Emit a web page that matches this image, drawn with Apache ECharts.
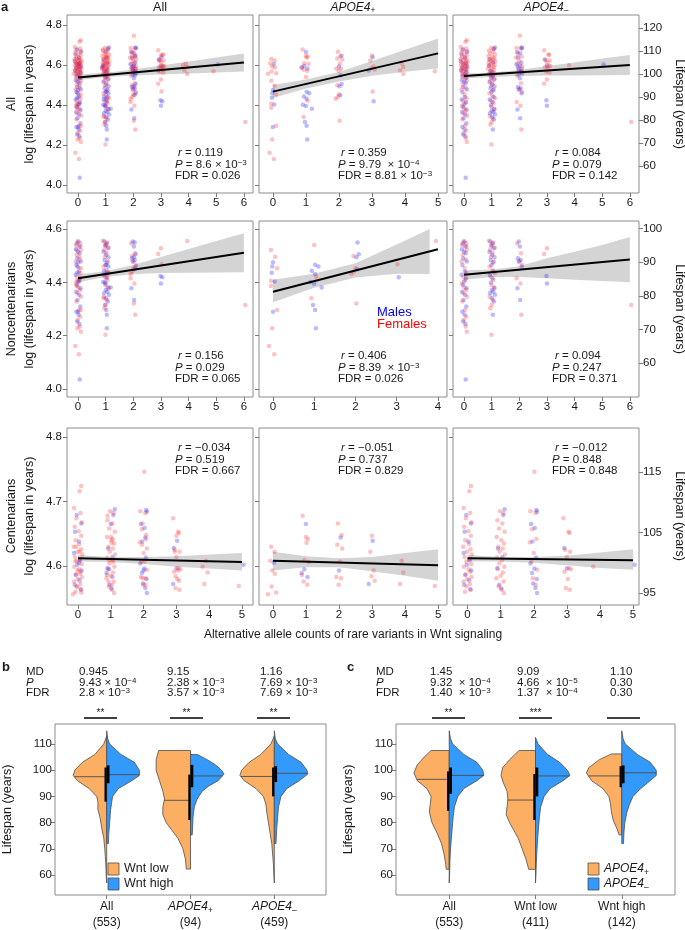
<!DOCTYPE html>
<html style="height: 100%">

<head>
  <meta charset="utf-8">
  <title>Wnt signaling variants and lifespan</title>
</head>

<body style="height: 100%; margin: 0; background: #fff">
  <div id="container" style="width: 685px; height: 930px"></div>
  <script type="text/javascript" src="https://cdn.jsdelivr.net/npm/echarts@6/dist/echarts.min.js"></script>
  <script type="text/javascript">
    var FONT = "'Liberation Sans', Arial, Helvetica, sans-serif";

    // ---------- panel a : points are [jittered allele count, log lifespan] ----------
    // noncentenarians, APOE4+
    var ncPosMales = [
      [0.00, 4.475], [-0.02, 4.459], [-0.03, 4.436], [0.04, 4.403], [0.00, 4.290],
      [1.02, 4.466], [1.10, 4.459], [0.94, 4.443], [1.02, 4.431], [0.91, 4.401], [1.00, 4.395], [1.18, 4.381],
      [0.97, 4.315], [1.02, 4.296], [1.04, 4.228],
      [2.05, 4.549], [2.08, 4.505], [2.02, 4.494], [2.04, 4.449],
      [3.05, 4.419]
    ];
    var ncPosFemales = [
      [-0.05, 4.521], [0.05, 4.496], [0.10, 4.453], [-0.05, 4.406], [-0.05, 4.386], [0.10, 4.296], [-0.02, 4.228],
      [-0.10, 4.161], [0.03, 4.130],
      [1.00, 4.540], [1.05, 4.421], [0.93, 4.340],
      [1.95, 4.499], [2.00, 4.453], [1.96, 4.440], [1.90, 4.431], [2.02, 4.321],
      [3.02, 4.468],
      [3.95, 4.555]
    ];
    // noncentenarians, APOE4-
    var ncNegMales = [
      [0.02, 4.553], [-0.05, 4.546], [0.08, 4.534], [-0.08, 4.524], [0.00, 4.515], [0.06, 4.509], [-0.03, 4.490],
      [0.10, 4.478], [-0.06, 4.465], [0.03, 4.440], [-0.09, 4.428], [0.07, 4.415], [0.00, 4.403], [-0.04, 4.390],
      [0.09, 4.378], [-0.07, 4.365], [0.04, 4.353], [-0.02, 4.334], [0.08, 4.309], [-0.06, 4.290], [0.02, 4.278],
      [-0.03, 4.253], [0.05, 4.244], [0.06, 4.036],
      [0.95, 4.553], [1.04, 4.546], [0.98, 4.536], [1.08, 4.528], [0.92, 4.515], [1.02, 4.503], [1.10, 4.494],
      [0.96, 4.484], [1.05, 4.474], [0.99, 4.465], [1.07, 4.440], [0.93, 4.428], [1.03, 4.415], [0.97, 4.399],
      [1.09, 4.381], [1.00, 4.371], [1.06, 4.365], [0.94, 4.359], [1.12, 4.353], [1.01, 4.340], [1.08, 4.328],
      [1.04, 4.278],
      [1.98, 4.553], [2.02, 4.534], [1.95, 4.490], [2.05, 4.484], [2.00, 4.478], [2.08, 4.459], [1.93, 4.378],
      [2.03, 4.334],
      [2.98, 4.424], [3.00, 4.396]
    ];
    var ncNegFemales = [
      [-0.02, 4.553], [0.08, 4.546], [-0.07, 4.540], [0.04, 4.534], [0.10, 4.521], [-0.05, 4.503], [0.06, 4.486],
      [-0.09, 4.478], [0.02, 4.453], [0.09, 4.434], [-0.04, 4.421], [0.05, 4.409], [-0.08, 4.396], [0.01, 4.381],
      [0.07, 4.371], [-0.03, 4.359], [0.11, 4.346], [-0.06, 4.328], [0.03, 4.296], [0.08, 4.271], [-0.01, 4.259],
      [0.06, 4.234], [0.10, 4.215],
      [0.90, 4.556], [1.05, 4.549], [1.00, 4.540], [1.11, 4.531], [0.94, 4.521], [1.03, 4.511], [0.97, 4.496],
      [1.08, 4.478], [0.92, 4.459], [1.02, 4.446], [1.12, 4.434], [0.96, 4.421], [1.06, 4.409], [0.99, 4.390],
      [1.10, 4.378], [0.93, 4.346], [1.04, 4.334], [1.00, 4.315], [0.95, 4.303], [0.99, 4.203],
      [1.92, 4.546], [2.06, 4.509], [1.97, 4.478], [2.10, 4.465], [1.90, 4.415], [2.04, 4.396], [2.07, 4.278],
      [2.90, 4.506], [3.00, 4.528],
      [6.05, 4.315]
    ];
    // centenarians, APOE4+
    var cenPosMales = [
      [0.03, 4.605],
      [1.00, 4.665], [0.95, 4.595], [0.87, 4.589], [1.05, 4.583],
      [2.05, 4.644], [2.00, 4.593],
      [3.02, 4.639], [2.90, 4.572]
    ];
    var cenPosFemales = [
      [-0.05, 4.630], [0.05, 4.622], [-0.08, 4.608], [-0.02, 4.593], [0.06, 4.588], [-0.04, 4.568], [0.10, 4.559],
      [-0.15, 4.556],
      [0.90, 4.678], [1.00, 4.645], [1.06, 4.642], [1.02, 4.636], [0.95, 4.609], [1.08, 4.606], [0.88, 4.586],
      [0.93, 4.576], [1.04, 4.571],
      [1.97, 4.666], [2.08, 4.648], [1.95, 4.633], [2.10, 4.627], [2.03, 4.607], [1.92, 4.583], [2.06, 4.581],
      [1.99, 4.571],
      [3.00, 4.647], [2.95, 4.622], [3.05, 4.593], [2.98, 4.584], [3.08, 4.577],
      [3.90, 4.608], [3.95, 4.590], [3.85, 4.572],
      [4.90, 4.569]
    ];
    // centenarians, APOE4-
    var cenNegMales = [
      [-0.04, 4.679], [0.10, 4.666], [-0.09, 4.653], [0.03, 4.638], [-0.12, 4.620], [0.06, 4.609], [-0.02, 4.602],
      [0.11, 4.593], [-0.07, 4.586], [0.05, 4.578], [-0.10, 4.571], [0.08, 4.564],
      [1.12, 4.688], [1.08, 4.679], [0.92, 4.627], [1.05, 4.614], [0.90, 4.597], [0.96, 4.571], [1.02, 4.565],
      [2.08, 4.687], [2.10, 4.684], [1.92, 4.665], [2.03, 4.659], [1.96, 4.638], [2.07, 4.613], [1.90, 4.604],
      [2.02, 4.596], [1.95, 4.589], [2.09, 4.580], [1.98, 4.573], [2.05, 4.566], [2.10, 4.558],
      [2.92, 4.628], [3.00, 4.596],
      [5.05, 4.602]
    ];
    var cenNegFemales = [
      [0.10, 4.724], [0.05, 4.716], [-0.12, 4.690], [0.08, 4.682], [-0.05, 4.674], [0.12, 4.668], [-0.10, 4.661],
      [0.02, 4.654], [0.10, 4.647], [-0.07, 4.640], [0.04, 4.634], [-0.13, 4.630], [0.09, 4.626], [-0.02, 4.622],
      [0.13, 4.618], [-0.09, 4.614], [0.06, 4.611], [-0.04, 4.607], [0.11, 4.603], [-0.11, 4.599], [0.03, 4.595],
      [0.08, 4.591], [-0.06, 4.587], [0.12, 4.583], [-0.01, 4.580], [-0.12, 4.576], [0.07, 4.572], [-0.03, 4.568],
      [0.10, 4.563], [-0.08, 4.560],
      [0.98, 4.685], [1.08, 4.682], [0.90, 4.671], [1.05, 4.666], [0.95, 4.658], [1.12, 4.653], [0.88, 4.645],
      [1.02, 4.640], [1.10, 4.635], [0.93, 4.630], [1.06, 4.627], [0.97, 4.622], [1.13, 4.618], [0.89, 4.613],
      [1.04, 4.609], [0.96, 4.604], [1.11, 4.599], [0.91, 4.595], [1.07, 4.590], [1.00, 4.585], [0.87, 4.581],
      [1.09, 4.576], [0.94, 4.568], [1.03, 4.563], [1.10, 4.558],
      [2.02, 4.746], [1.90, 4.685], [2.05, 4.682], [1.95, 4.657], [2.08, 4.642], [1.88, 4.637], [2.00, 4.620],
      [1.93, 4.607], [2.10, 4.594], [1.97, 4.581], [2.06, 4.571],
      [2.90, 4.674], [3.05, 4.653], [3.08, 4.651], [2.95, 4.625], [3.10, 4.622], [3.00, 4.614], [3.06, 4.597],
      [3.12, 4.595], [2.93, 4.591], [3.03, 4.580], [2.97, 4.566], [3.09, 4.563],
      [3.80, 4.599]
    ];

    // regression line per panel (row-major: All / Noncentenarians / Centenarians x All / APOE4+ / APOE4-)
    var fitLines = [
      [[0, 4.538], [6, 4.613]], [[0, 4.467], [5, 4.658]], [[0, 4.545], [6, 4.600]],
      [[0, 4.415], [6, 4.511]], [[0, 4.365], [4, 4.524]], [[0, 4.428], [6, 4.486]],
      [[0, 4.612], [5, 4.606]], [[0, 4.608], [5, 4.601]], [[0, 4.612], [5, 4.609]]
    ];
    // 95% band per panel: [x, lower, upper]
    var fitBands = [
      [[0, 4.524, 4.552], [1, 4.540, 4.561], [2, 4.548, 4.578], [3, 4.553, 4.598], [4, 4.557, 4.617], [5, 4.562, 4.637], [6, 4.567, 4.658]],
      [[0, 4.435, 4.500], [1, 4.482, 4.527], [2, 4.518, 4.565], [3, 4.546, 4.620], [4, 4.566, 4.676], [5, 4.583, 4.733]],
      [[0, 4.533, 4.557], [1, 4.540, 4.562], [2, 4.545, 4.575], [3, 4.547, 4.595], [4, 4.548, 4.612], [5, 4.549, 4.632], [6, 4.550, 4.650]],
      [[0, 4.400, 4.430], [1, 4.420, 4.442], [2, 4.430, 4.465], [3, 4.435, 4.495], [4, 4.436, 4.525], [5, 4.437, 4.555], [6, 4.438, 4.584]],
      [[0, 4.325, 4.410], [1, 4.380, 4.432], [2, 4.418, 4.472], [3, 4.432, 4.542], [3.8, 4.431, 4.600]],
      [[0, 4.410, 4.445], [1, 4.420, 4.448], [2, 4.420, 4.460], [3, 4.415, 4.490], [4, 4.410, 4.515], [5, 4.405, 4.540], [6, 4.400, 4.570]],
      [[0, 4.607, 4.617], [1, 4.606, 4.614], [2, 4.603, 4.614], [3, 4.599, 4.615], [4, 4.596, 4.618], [5, 4.593, 4.620]],
      [[0, 4.593, 4.622], [1, 4.598, 4.615], [2, 4.598, 4.612], [3, 4.592, 4.614], [4, 4.585, 4.620], [5, 4.577, 4.626]],
      [[0, 4.607, 4.617], [1, 4.607, 4.614], [2, 4.605, 4.614], [3, 4.601, 4.616], [4, 4.597, 4.621], [5, 4.594, 4.626]]
    ];
    var panelR = ['0.119', '0.359', '0.084', '0.156', '0.406', '0.094', '\u22120.034', '\u22120.051', '\u22120.012'];
    var panelP = ['8.6 \u00d7 10^\u22123', '9.79  \u00d7 10^\u22124', '0.079', '0.029', '8.39  \u00d7 10^\u22123', '0.247', '0.519', '0.737', '0.848'];
    var panelFDR = ['0.026', '8.81 \u00d7 10^\u22123', '0.142', '0.065', '0.026', '0.371', '0.667', '0.829', '0.848'];
    var xTicks = [
      [0, 1, 2, 3, 4, 5, 6], [0, 1, 2, 3, 4, 5], [0, 1, 2, 3, 4, 5, 6],
      [0, 1, 2, 3, 4, 5, 6], [0, 1, 2, 3, 4], [0, 1, 2, 3, 4, 5, 6],
      [0, 1, 2, 3, 4, 5], [0, 1, 2, 3, 4, 5], [0, 1, 2, 3, 4, 5]
    ];
    var logTicks = [[4.0, 4.2, 4.4, 4.6, 4.8], [4.0, 4.2, 4.4, 4.6], [4.6, 4.7, 4.8]];
    var yearTicks = [[60, 70, 80, 90, 100, 110, 120], [60, 70, 80, 90, 100], [95, 105, 115]];
    var rowNames = ['All', 'Noncentenarians', 'Centenarians'];
    var colNames = ['{tn|All}', '{ti|APOE4}{tsub|+}', '{ti|APOE4}{tsub|\u2013}'];

    // ---------- panels b and c : split violins, profiles are [lifespan, half width] ----------
    var bLabels = ['{n|All}\n{n|(553)}', '{i|APOE4}{sub|+}\n{n|(94)}', '{i|APOE4}{sub|\u2013}\n{n|(459)}'];
    var bLowShapes = [
      [[113, 0], [110, 0.035], [106, 0.14], [103, 0.29], [100, 0.38], [98, 0.40], [96, 0.35], [93, 0.21], [90, 0.12], [88, 0.105], [85, 0.105], [82, 0.08], [78, 0.06], [74, 0.035], [70, 0.023], [65, 0.012], [60, 0.006], [57, 0]],
      [[107.5, 0.38], [104, 0.41], [100, 0.41], [96, 0.37], [92, 0.33], [89, 0.31], [86, 0.33], [83, 0.33], [80, 0.29], [77, 0.22], [74, 0.15], [70, 0.09], [66, 0.06], [62.3, 0.05]],
      [[113, 0], [110, 0.04], [106, 0.16], [103, 0.30], [100, 0.39], [98, 0.41], [96, 0.36], [93, 0.22], [90, 0.13], [87, 0.10], [84, 0.09], [80, 0.07], [76, 0.05], [72, 0.03], [68, 0.02], [64, 0.01], [60, 0.005], [57, 0]]
    ];
    var bHighShapes = [
      [[115, 0], [112, 0.012], [110, 0.035], [106, 0.17], [103, 0.33], [100, 0.39], [98, 0.39], [96, 0.30], [93, 0.14], [90, 0.07], [85, 0.047], [80, 0.035], [75, 0.023], [72, 0.02]],
      [[106, 0.08], [104, 0.20], [102, 0.30], [100, 0.37], [98.5, 0.40], [96, 0.33], [94, 0.22], [92, 0.14], [89, 0.08], [86, 0.045], [82, 0.03], [78, 0.025], [75.3, 0.02]],
      [[115, 0], [112, 0.012], [110, 0.04], [106, 0.17], [103, 0.32], [100, 0.39], [98.5, 0.40], [96, 0.30], [93, 0.15], [90, 0.08], [86, 0.05], [82, 0.04], [78, 0.03], [75, 0.025], [72, 0.02]]
    ];
    var bLowMedians = [97.5, 88.5, 97.6];
    var bHighMedians = [98.3, 97.8, 98.8];
    var bLowBoxes = [[88, 101], [81, 98.3], [90, 101]];
    var bHighBoxes = [[95, 101.8], [93.5, 102], [95.5, 101.5]];
    var bMD = ['0.945', '9.15', '1.16'];
    var bP = ['9.43 \u00d7 10^\u22124', '2.38 \u00d7 10^\u22123', '7.69 \u00d7 10^\u22123'];
    var bFDR = ['2.8 \u00d7 10^\u22123', '3.57 \u00d7 10^\u22123', '7.69 \u00d7 10^\u22123'];
    var bStars = ['**', '**', '**'];

    var cLabels = ['{n|All}\n{n|(553)}', '{n|Wnt low}\n{n|(411)}', '{n|Wnt high}\n{n|(142)}'];
    var cLowShapes = [
      [[107.5, 0.21], [105, 0.29], [102, 0.37], [99, 0.41], [96, 0.37], [93, 0.26], [90, 0.21], [87, 0.22], [84, 0.23], [80, 0.20], [76, 0.14], [72, 0.09], [68, 0.06], [64, 0.04], [62.2, 0.035]],
      [[107.5, 0.19], [104, 0.30], [101, 0.38], [98, 0.40], [95, 0.37], [92, 0.33], [89, 0.32], [86, 0.33], [83, 0.34], [80, 0.30], [77, 0.25], [74, 0.20], [70, 0.155], [66, 0.11], [63, 0.085], [62.2, 0.08]],
      [[106.2, 0.12], [104, 0.26], [101, 0.38], [99, 0.41], [96, 0.35], [93, 0.22], [90, 0.15], [87, 0.13], [84, 0.12], [81, 0.10], [78, 0.06], [75.3, 0.03]]
    ];
    var cHighShapes = [
      [[115, 0], [112, 0.015], [110, 0.04], [106, 0.17], [103, 0.32], [100, 0.39], [98, 0.40], [96, 0.32], [93, 0.17], [90, 0.10], [86, 0.06], [82, 0.045], [78, 0.035], [74, 0.025], [70, 0.015], [65, 0.008], [60, 0.004], [57, 0]],
      [[112.5, 0], [110, 0.03], [106, 0.14], [103, 0.28], [100, 0.37], [98, 0.40], [96, 0.32], [93, 0.17], [90, 0.10], [86, 0.06], [82, 0.045], [78, 0.035], [74, 0.025], [70, 0.018], [65, 0.01], [60, 0.005], [57, 0]],
      [[115, 0], [112, 0.015], [110, 0.04], [106, 0.18], [103, 0.33], [100, 0.40], [98, 0.40], [96, 0.33], [93, 0.22], [90, 0.13], [87, 0.09], [84, 0.06], [80, 0.035], [76, 0.025], [72, 0.02]]
    ];
    var cLowMedians = [96.5, 88.6, 97.8];
    var cHighMedians = [98.0, 97.8, 99.0];
    var cLowBoxes = [[84.5, 99.5], [81, 98.5], [93.5, 101.5]];
    var cHighBoxes = [[91, 101], [90, 101], [95, 101.8]];
    var cMD = ['1.45', '9.09', '1.10'];
    var cP = ['9.32  \u00d7 10^\u22124', '4.66  \u00d7 10^\u22125', '0.30'];
    var cFDR = ['1.40  \u00d7 10^\u22123', '1.37  \u00d7 10^\u22124', '0.30'];
    var cStars = ['**', '***', ''];

    var LOW_COLOR = '#fcaf62';
    var HIGH_COLOR = '#3399fa';

    // ---------- build ----------
    var dom = document.getElementById('container');
    var myChart = echarts.init(dom, null, { renderer: 'canvas' });

    var RICH = {
      i: { fontFamily: FONT, fontSize: 11.5, fontStyle: 'italic', lineHeight: 12 },
      n: { fontFamily: FONT, fontSize: 11.5, lineHeight: 12 },
      sup: { fontFamily: FONT, fontSize: 8, lineHeight: 5, verticalAlign: 'top' },
      tn: { fontFamily: FONT, fontSize: 12.5, lineHeight: 14 },
      ti: { fontFamily: FONT, fontSize: 12, fontStyle: 'italic', lineHeight: 14 },
      tsub: { fontFamily: FONT, fontSize: 8.5, lineHeight: 6, verticalAlign: 'bottom' }
    };
    function sup(s) {
      return s.replace(/\^(\S+)/, '{sup|$1}');
    }
    function txt(x, y, text, extra, el) {
      var style = { text: text, fill: '#1a1a1a', fontFamily: FONT, fontSize: 11.5, lineHeight: 12, align: 'left', verticalAlign: 'middle', rich: RICH };
      Object.assign(style, extra || {});
      return Object.assign({ type: 'text', x: x, y: y, silent: true, style: style }, el || {});
    }

    var gridLefts = [67, 259, 453], gridWidths = [186, 188, 186];
    var gridTops = [15, 221, 428], gridHeights = [178, 176, 177];
    var xRanges = [[-0.4, 6.33], [-0.42, 5.27], [-0.4, 6.33], [-0.4, 6.33], [-0.34, 4.22], [-0.4, 6.33], [-0.335, 5.335], [-0.42, 5.27], [-0.44, 5.18]];
    var logRanges = [[3.96, 4.85], [3.97, 4.63], [4.5395, 4.814]];
    var yearRanges = [[48.2, 125.8], [50.0, 102.2], [93.0, 122.3]];

    var groups = {
      nc: { pos: [ncPosMales, ncPosFemales], neg: [ncNegMales, ncNegFemales] },
      cen: { pos: [cenPosMales, cenPosFemales], neg: [cenNegMales, cenNegFemales] }
    };
    function pick(r, c, sex) {
      var rows = r === 0 ? ['nc', 'cen'] : (r === 1 ? ['nc'] : ['cen']);
      var cols = c === 0 ? ['pos', 'neg'] : (c === 1 ? ['pos'] : ['neg']);
      var out = [];
      rows.forEach(function (rk) {
        cols.forEach(function (ck) { out = out.concat(groups[rk][ck][sex]); });
      });
      return out;
    }

    var grids = [], xAxes = [], yAxes = [], series = [], graphics = [];
    var axisGray = '#7a7a7a';
    var labelStyle = { color: '#1a1a1a', fontFamily: FONT, fontSize: 11.5 };
    var noLine = { show: false, onZero: false };

    for (var r = 0; r < 3; r++) {
      for (var c = 0; c < 3; c++) {
        var p = r * 3 + c;
        grids.push({ left: gridLefts[c], top: gridTops[r], width: gridWidths[c], height: gridHeights[r], show: true, borderColor: '#8c8c8c', borderWidth: 1 });
        xAxes.push({
          gridIndex: p, type: 'value', position: 'bottom', min: xRanges[p][0], max: xRanges[p][1],
          axisLine: noLine, splitLine: { show: false },
          axisTick: { customValues: xTicks[p], length: 4, lineStyle: { color: axisGray } },
          axisLabel: Object.assign({ customValues: xTicks[p], margin: 4 }, labelStyle)
        });
        yAxes.push({
          gridIndex: p, type: 'value', position: 'left', min: logRanges[r][0], max: logRanges[r][1],
          axisLine: noLine, splitLine: { show: false },
          axisTick: { customValues: logTicks[r], length: 4, lineStyle: { color: axisGray } },
          axisLabel: Object.assign({ show: c === 0, customValues: logTicks[r], margin: 5, formatter: function (v) { return v.toFixed(1); } }, labelStyle)
        });
      }
    }
    // right-hand lifespan axes
    for (var r2 = 0; r2 < 3; r2++) {
      yAxes.push({
        gridIndex: r2 * 3 + 2, type: 'value', position: 'right', min: yearRanges[r2][0], max: yearRanges[r2][1],
        axisLine: noLine, splitLine: { show: false },
        axisTick: { customValues: yearTicks[r2], length: 4, lineStyle: { color: axisGray } },
        axisLabel: Object.assign({ customValues: yearTicks[r2], margin: 4 }, labelStyle)
      });
    }

    for (var pp = 0; pp < 9; pp++) {
      (function (p) {
        var r = Math.floor(p / 3), c = p % 3;
        var band = fitBands[p];
        series.push({
          type: 'custom', xAxisIndex: p, yAxisIndex: p, silent: true, z: 1,
          data: [[band[0][0], band[0][1]]],
          renderItem: function (params, api) {
            var pts = [];
            band.forEach(function (b) { pts.push(api.coord([b[0], b[2]])); });
            band.slice().reverse().forEach(function (b) { pts.push(api.coord([b[0], b[1]])); });
            return { type: 'polygon', shape: { points: pts }, style: { fill: '#d4d4d4' } };
          }
        });
        series.push({
          type: 'scatter', xAxisIndex: p, yAxisIndex: p, silent: true, z: 2, symbolSize: 4.5,
          itemStyle: { color: 'rgba(20,20,255,0.36)' }, data: pick(r, c, 0)
        });
        series.push({
          type: 'scatter', xAxisIndex: p, yAxisIndex: p, silent: true, z: 2, symbolSize: 4.5,
          itemStyle: { color: 'rgba(255,20,20,0.32)' }, data: pick(r, c, 1)
        });
        series.push({
          type: 'line', xAxisIndex: p, yAxisIndex: p, silent: true, z: 3, symbol: 'none',
          lineStyle: { color: '#000', width: 2 }, data: fitLines[p]
        });
      })(pp);
    }

    // panel a texts
    graphics.push(txt(1, 7, 'a', { fontWeight: 'bold', fontSize: 13 }));
    var titleX = [160, 353, 546];
    for (var t = 0; t < 3; t++) {
      graphics.push(txt(titleX[t], 8, colNames[t], { align: 'center', lineHeight: 14 }));
    }
    var annX = [175, 338, 552];
    var annY = [153, 356, 448];
    var rowMid = [104, 309, 516];
    for (var rr = 0; rr < 3; rr++) {
      graphics.push(txt(12, rowMid[rr], rowNames[rr], { align: 'center', fontSize: 12.5 }, { rotation: Math.PI / 2 }));
      graphics.push(txt(30, rowMid[rr], 'log (lifespan in years)', { align: 'center', fontSize: 12.5 }, { rotation: Math.PI / 2 }));
      graphics.push(txt(679, rowMid[rr], 'Lifespan (years)', { align: 'center', fontSize: 12.5 }, { rotation: -Math.PI / 2 }));
      for (var cc = 0; cc < 3; cc++) {
        var k = rr * 3 + cc;
        graphics.push(txt(annX[cc] + 3, annY[rr], '{i|r} = ' + panelR[k]));
        graphics.push(txt(annX[cc], annY[rr] + 11.5, '{i|P} = ' + sup(panelP[k])));
        graphics.push(txt(annX[cc], annY[rr] + 23, 'FDR = ' + sup(panelFDR[k])));
      }
    }
    graphics.push(txt(377, 312, 'Males', { fill: '#0000ff', fontSize: 13 }));
    graphics.push(txt(377, 324, 'Females', { fill: '#ff0000', fontSize: 13 }));
    graphics.push(txt(353, 635, 'Alternative allele counts of rare variants in Wnt signaling', { align: 'center', fontSize: 12 }));

    // ---------- violin panels ----------
    function widthAt(profile, v) {
      for (var i = 0; i < profile.length - 1; i++) {
        var a = profile[i], b = profile[i + 1];
        if (v <= a[0] && v >= b[0]) {
          var f = (a[0] - v) / (a[0] - b[0]);
          return a[1] + (b[1] - a[1]) * f;
        }
      }
      return 0;
    }
    function halfPoints(api, profile, center, dir) {
      var pts = [api.coord([center, profile[0][0]])];
      profile.forEach(function (q) { pts.push(api.coord([center + dir * q[1], q[0]])); });
      pts.push(api.coord([center, profile[profile.length - 1][0]]));
      return pts;
    }
    function violinSeries(gi, yi, lowShapes, highShapes, lowMed, highMed, lowBox, highBox) {
      return {
        type: 'custom', xAxisIndex: gi, yAxisIndex: yi, silent: true,
        data: [[1, 0], [2, 1], [3, 2]],
        renderItem: function (params, api) {
          var center = api.value(0), i = api.value(1);
          var children = [];
          var outline = { stroke: '#4d4d4d', lineWidth: 0.8 };
          children.push({ type: 'polygon', shape: { points: halfPoints(api, lowShapes[i], center, -1) }, style: Object.assign({ fill: LOW_COLOR }, outline) });
          children.push({ type: 'polygon', shape: { points: halfPoints(api, highShapes[i], center, 1) }, style: Object.assign({ fill: HIGH_COLOR }, outline) });
          var lm = api.coord([center - widthAt(lowShapes[i], lowMed[i]), lowMed[i]]);
          var c0 = api.coord([center, lowMed[i]]);
          children.push({ type: 'line', shape: { x1: lm[0], y1: lm[1], x2: c0[0], y2: c0[1] }, style: { stroke: '#4d4d4d', lineWidth: 0.9 } });
          var hm = api.coord([center + widthAt(highShapes[i], highMed[i]), highMed[i]]);
          var c1 = api.coord([center, highMed[i]]);
          children.push({ type: 'line', shape: { x1: c1[0], y1: c1[1], x2: hm[0], y2: hm[1] }, style: { stroke: '#4d4d4d', lineWidth: 0.9 } });
          var lt = api.coord([center, lowBox[i][1]]), lb = api.coord([center, lowBox[i][0]]);
          children.push({ type: 'rect', shape: { x: lt[0] - 2.2, y: lt[1], width: 2.2, height: lb[1] - lt[1] }, style: { fill: '#000' } });
          var ht = api.coord([center, highBox[i][1]]), hb = api.coord([center, highBox[i][0]]);
          children.push({ type: 'rect', shape: { x: ht[0], y: ht[1], width: 2.8, height: hb[1] - ht[1] }, style: { fill: '#000' } });
          return { type: 'group', children: children };
        }
      };
    }
    var violinRich = {
      n: { fontFamily: FONT, fontSize: 12, lineHeight: 16, color: '#1a1a1a' },
      i: { fontFamily: FONT, fontSize: 12, fontStyle: 'italic', lineHeight: 16, color: '#1a1a1a' },
      sub: { fontFamily: FONT, fontSize: 8.5, lineHeight: 8, verticalAlign: 'bottom', color: '#1a1a1a' }
    };
    var vLefts = [48, 396], vWidths = [278, 279];
    var vLabelSets = [bLabels, cLabels];
    for (var v = 0; v < 2; v++) {
      var gi = 9 + v;
      grids.push({ left: vLefts[v], top: 724, width: vWidths[v], height: 171, show: true, borderColor: '#8c8c8c', borderWidth: 1 });
      (function (labels) {
        xAxes.push({
          gridIndex: gi, type: 'value', position: 'bottom', min: 0.383, max: 3.617,
          axisLine: noLine, splitLine: { show: false },
          axisTick: { customValues: [1, 2, 3], length: 4, lineStyle: { color: axisGray } },
          axisLabel: { customValues: [1, 2, 3], margin: 4, rich: violinRich, formatter: function (val) { return labels[Math.round(val) - 1]; } }
        });
      })(vLabelSets[v]);
      yAxes.push({
        gridIndex: gi, type: 'value', position: 'left', min: 52.4, max: 117.6,
        name: 'Lifespan (years)', nameLocation: 'middle', nameGap: 41,
        nameTextStyle: { fontFamily: FONT, fontSize: 12.5, color: '#1a1a1a' },
        axisLine: noLine, splitLine: { show: false },
        axisTick: { customValues: [60, 70, 80, 90, 100, 110], length: 4, lineStyle: { color: axisGray } },
        axisLabel: Object.assign({ customValues: [60, 70, 80, 90, 100, 110], margin: 3 }, labelStyle)
      });
    }
    // y axis indices: 0..8 panel a left axes, 9..11 right lifespan axes, 12..13 violins
    series.push(violinSeries(9, 12, bLowShapes, bHighShapes, bLowMedians, bHighMedians, bLowBoxes, bHighBoxes));
    series.push(violinSeries(10, 13, cLowShapes, cHighShapes, cLowMedians, cHighMedians, cLowBoxes, cHighBoxes));

    // stats header, significance bars, legends
    function statsBlock(labelX, valueX, barX, md, pv, fdr, stars) {
      graphics.push(txt(labelX, 672, 'MD'));
      graphics.push(txt(labelX, 682.5, '{i|P}'));
      graphics.push(txt(labelX, 693, 'FDR'));
      for (var j = 0; j < 3; j++) {
        graphics.push(txt(valueX[j], 672, md[j]));
        graphics.push(txt(valueX[j], 682.5, sup(pv[j])));
        graphics.push(txt(valueX[j], 693, sup(fdr[j])));
        graphics.push({ type: 'line', silent: true, shape: { x1: barX[j], y1: 718, x2: barX[j] + 33, y2: 718 }, style: { stroke: '#000', lineWidth: 1.6 } });
        if (stars[j]) graphics.push(txt(barX[j] + 16.5, 713, stars[j], { align: 'center', fontSize: 10 }));
      }
    }
    graphics.push(txt(2, 667, 'b', { fontWeight: 'bold', fontSize: 13 }));
    statsBlock(26, [79, 167, 260], [84, 170, 257], bMD, bP, bFDR, bStars);
    graphics.push(txt(347, 667, 'c', { fontWeight: 'bold', fontSize: 13 }));
    statsBlock(376, [430, 517, 610], [432, 519, 607], cMD, cP, cFDR, cStars);

    function legendBlock(x, names) {
      graphics.push({ type: 'rect', silent: true, shape: { x: x, y: 863, width: 11, height: 12 }, style: { fill: LOW_COLOR, stroke: '#4d4d4d', lineWidth: 0.8 } });
      graphics.push({ type: 'rect', silent: true, shape: { x: x, y: 878, width: 11, height: 12 }, style: { fill: HIGH_COLOR, stroke: '#4d4d4d', lineWidth: 0.8 } });
      graphics.push(txt(x + 16, 869, names[0], { fontSize: 12.5, rich: violinRich }));
      graphics.push(txt(x + 16, 884, names[1], { fontSize: 12.5, rich: violinRich }));
    }
    legendBlock(108, ['Wnt low', 'Wnt high']);
    legendBlock(588, ['{i|APOE4}{sub|+}', '{i|APOE4}{sub|\u2013}']);

    var option = {
      animation: false,
      backgroundColor: '#fff',
      textStyle: { fontFamily: FONT },
      grid: grids,
      xAxis: xAxes,
      yAxis: yAxes,
      series: series,
      graphic: graphics
    };
    myChart.setOption(option, true);
  </script>
</body>

</html>
